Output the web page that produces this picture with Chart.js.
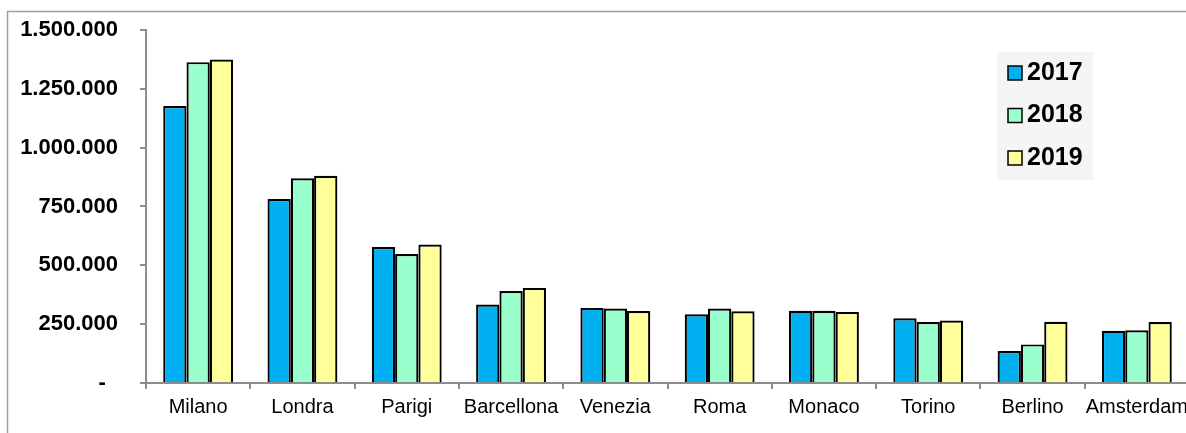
<!DOCTYPE html>
<html>
<head>
<meta charset="utf-8">
<script src="https://cdn.jsdelivr.net/npm/chart.js@4"></script>
<style>
  html, body { margin: 0; padding: 0; background: #fff; overflow: hidden; }
  #wrap { position: relative; width: 1200px; height: 433px; }
</style>
</head>
<body>
<div id="wrap"><canvas id="chart" width="1200" height="433"></canvas></div>
<script>
const cities = ['Milano', 'Londra', 'Parigi', 'Barcellona', 'Venezia', 'Roma', 'Monaco', 'Torino', 'Berlino', 'Amsterdam'];
const years = ['2017', '2018', '2019'];
const values2017 = [1177000, 782000, 578000, 333000, 319000, 292000, 307000, 275000, 136000, 222000];
const values2018 = [1363000, 870000, 548000, 391000, 316000, 316000, 307000, 259000, 164000, 224000];
const values2019 = [1374000, 880000, 588000, 404000, 306000, 305000, 302000, 265000, 260000, 259000];
const yTicks = [0, 250000, 500000, 750000, 1000000, 1250000, 1500000];

const colors = ['#00B0F0', '#99FFCC', '#FFFF99'];
const axisGrey = '#8c8c8c';

function fmt(v) {
    if (v === 0) return '-  ';
    return String(v).replace(/\B(?=(\d{3})+(?!\d))/g, '.');
}

// grey frame around the chart (right and bottom sides fall outside the picture)
const framePlugin = {
    id: 'frame',
    beforeDraw(chart) {
        const ctx = chart.ctx;
        ctx.save();
        ctx.strokeStyle = '#a0a0a0';
        ctx.lineWidth = 1.5;
        ctx.strokeRect(7.5, 11.5, 2000, 2000);
        ctx.restore();
    }
};

// boxed legend inside the plot, top right
const boxLegend = {
    id: 'boxLegend',
    afterDraw(chart) {
        const ctx = chart.ctx;
        ctx.save();
        ctx.fillStyle = '#f5f5f5';
        ctx.fillRect(997, 52, 96, 128);
        ctx.font = 'bold 25px "Liberation Sans", Arial, sans-serif';
        ctx.textBaseline = 'middle';
        chart.data.datasets.forEach((ds, i) => {
            const cy = 73 + i * 42.5;
            ctx.fillStyle = ds.backgroundColor;
            ctx.fillRect(1008, cy - 7, 14, 14);
            ctx.strokeStyle = '#000';
            ctx.lineWidth = 1.5;
            ctx.strokeRect(1008, cy - 7, 14, 14);
            ctx.fillStyle = '#000';
            ctx.fillText(ds.label, 1027, cy);
        });
        ctx.restore();
    }
};

new Chart(document.getElementById('chart'), {
    type: 'bar',
    data: {
        labels: cities,
        datasets: [
            { label: years[0], data: values2017, backgroundColor: colors[0] },
            { label: years[1], data: values2018, backgroundColor: colors[1] },
            { label: years[2], data: values2019, backgroundColor: colors[2] }
        ].map(d => Object.assign(d, { borderColor: '#000', borderWidth: 2.2 }))
    },
    options: {
        responsive: false,
        animation: false,
        layout: { padding: { left: 0, top: 0, right: 11, bottom: 0 } },
        datasets: { bar: { categoryPercentage: 0.67, barPercentage: 1.0 } },
        plugins: { legend: { display: false }, tooltip: { enabled: false } },
        scales: {
            x: {
                grid: { display: true, drawOnChartArea: false, drawTicks: true, tickLength: 6, color: axisGrey, lineWidth: 2, offset: true },
                border: { display: true, color: axisGrey, width: 2 },
                ticks: { color: '#000', padding: 6, maxRotation: 0, autoSkip: false,
                         font: { family: '"Liberation Sans", Arial, sans-serif', size: 20 } },
                afterFit(scale) { scale.height = 50; }
            },
            y: {
                min: 0,
                max: 1500000,
                afterBuildTicks(scale) { scale.ticks = yTicks.map(v => ({ value: v })); },
                grid: { display: true, drawOnChartArea: false, drawTicks: true, tickLength: 6, color: axisGrey, lineWidth: 2 },
                border: { display: true, color: axisGrey, width: 2 },
                // small lineHeight keeps the top of the plot at y=30
                ticks: { color: '#000', padding: 22, callback: v => fmt(v),
                         font: { family: '"Liberation Sans", Arial, sans-serif', size: 22, weight: 'bold', lineHeight: 0.72 } },
                afterFit(scale) { scale.width = 146; }
            }
        }
    },
    plugins: [framePlugin, boxLegend]
});
</script>
</body>
</html>
